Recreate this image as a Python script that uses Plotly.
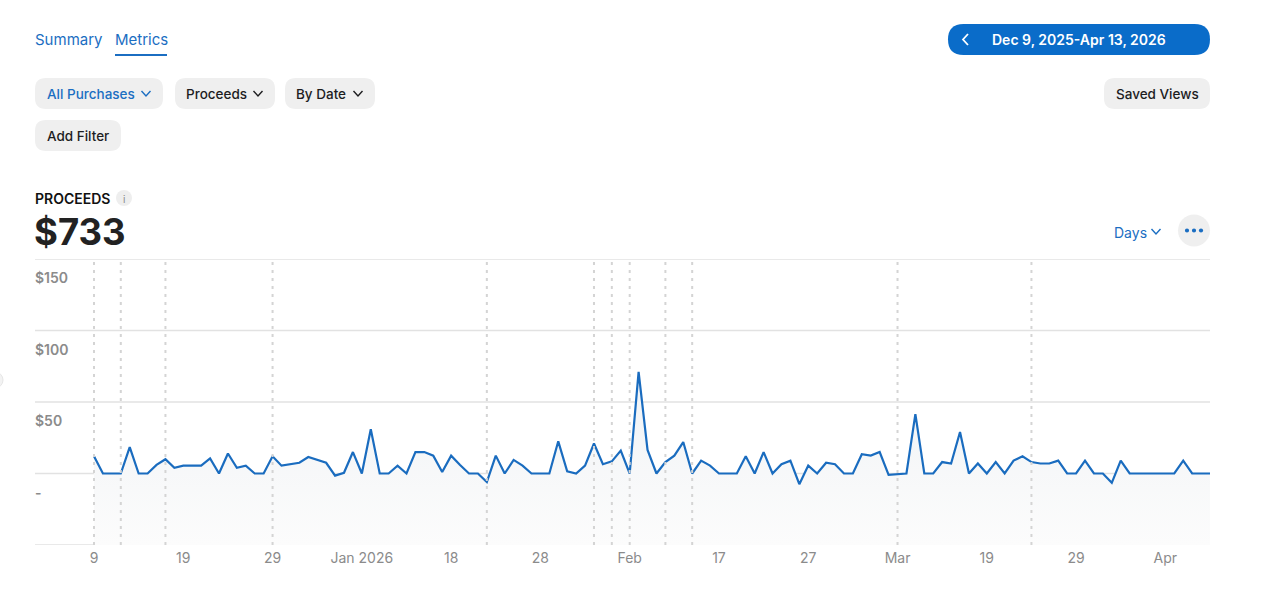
import pandas as pd
import plotly.graph_objects as go

# ---------------- data ----------------
start_date = "2025-12-09"
end_date = "2026-04-13"
proceeds = [
    12, 0, 0, 0, 18.5, 0, 0, 6, 10, 4,
    5.5, 5.5, 5.5, 10.5, 0, 14, 4, 5.5, 0, 0,
    12, 5.5, 6.5, 7.5, 11.5, 9.5, 7.5, -1.5, 0.5, 15,
    0, 31, 0, 0, 5.5, 0, 15, 15, 12.5, 1,
    12.5, 6, 0, 0, -6, 12.5, 0, 9.5, 5.5, 0,
    0, 0, 22.5, 1.5, 0, 5.5, 21, 6.5, 8.5, 16,
    0, 71, 16.5, 0, 8, 12.5, 22, 0, 9, 5.5,
    0, 0, 0, 12, 0, 15, 0, 6.5, 9, -7.5,
    5.5, 0, 7.5, 6.5, 0, 0, 13.5, 12.5, 15, -1,
    -0.5, 0, 41.5, 0, 0, 8, 7, 29, 0, 7,
    0, 8, 0, 9, 12, 8, 7, 7, 9, 0,
    0, 9, 0, 0, -6.5, 9, 0, 0, 0, 0,
    0, 0, 9, 0, 0, 0,
]
dates = pd.date_range(start_date, periods=len(proceeds), freq="D")

tick_dates = ["2025-12-09", "2025-12-19", "2025-12-29", "2026-01-08", "2026-01-18",
              "2026-01-28", "2026-02-07", "2026-02-17", "2026-02-27", "2026-03-09",
              "2026-03-19", "2026-03-29", "2026-04-08"]
tick_labels = ["9", "19", "29", "Jan 2026", "18", "28", "Feb", "17", "27", "Mar",
               "19", "29", "Apr"]

marker_dates = ["2025-12-09", "2025-12-12", "2025-12-17", "2025-12-29", "2026-01-22",
                "2026-02-03", "2026-02-05", "2026-02-07", "2026-02-11", "2026-02-14",
                "2026-03-09", "2026-03-24"]

y_grid = [150, 100, 50, 0, -50]
y_labels = ["$150", "$100", "$50", "-", ""]
total_label = "$733"

# ---------------- layout helpers ----------------
W, H = 1280, 593
L, R, T, B = 35, 1210, 259, 545
FONT = "Inter"
BLUE = "#1b6ec2"
DARK = "#1d1d1f"
PILL = "#efefef"


def px(x):
    return (x - L) / (R - L)


def py(y):
    return (B - y) / (B - T)


def rrect(x0, y0, x1, y1, r, fill):
    pts = [
        f"M {px(x0 + r)},{py(y0)}",
        f"L {px(x1 - r)},{py(y0)}",
        f"Q {px(x1)},{py(y0)} {px(x1)},{py(y0 + r)}",
        f"L {px(x1)},{py(y1 - r)}",
        f"Q {px(x1)},{py(y1)} {px(x1 - r)},{py(y1)}",
        f"L {px(x0 + r)},{py(y1)}",
        f"Q {px(x0)},{py(y1)} {px(x0)},{py(y1 - r)}",
        f"L {px(x0)},{py(y0 + r)}",
        f"Q {px(x0)},{py(y0)} {px(x0 + r)},{py(y0)}",
        "Z",
    ]
    return dict(type="path", xref="paper", yref="paper", path=" ".join(pts),
                fillcolor=fill, line=dict(width=0), layer="above")


def chevron(cx, cy, color, w=4.5, h=2.5, lw=1.4):
    path = f"M {px(cx - w)},{py(cy - h)} L {px(cx)},{py(cy + h)} L {px(cx + w)},{py(cy - h)}"
    return dict(type="path", xref="paper", yref="paper", path=path,
                line=dict(color=color, width=lw), layer="above")


def text(x, y, s, size=13.5, color=DARK, anchor="left", weight=500):
    shift = -2 if anchor == "left" else 0
    return dict(x=px(x), y=py(y), xref="paper", yref="paper", text=s, showarrow=False,
                xanchor=anchor, yanchor="middle", xshift=shift,
                font=dict(family=FONT, size=size, color=color, weight=weight))


def circle(cx, cy, r, fill):
    return dict(type="circle", xref="paper", yref="paper",
                x0=px(cx - r), x1=px(cx + r), y0=py(cy + r), y1=py(cy - r),
                fillcolor=fill, line=dict(width=0), layer="above")


# ---------------- figure ----------------
fig = go.Figure()

baseline = [-50] * len(proceeds)
fig.add_trace(go.Scatter(x=dates, y=baseline, mode="lines", line=dict(width=0),
                         hoverinfo="skip", showlegend=False))
fig.add_trace(go.Scatter(
    x=dates, y=proceeds, mode="lines",
    line=dict(color="#1a6cbf", width=2.2),
    fill="tonexty",
    fillgradient=dict(type="vertical", start=-50, stop=40,
                      colorscale=[[0, "rgba(252,252,252,1)"], [1, "rgba(243,245,247,1)"]]),
    showlegend=False,
))

shapes = []
# horizontal gridlines (incl. top and bottom edges)
for v in y_grid:
    shapes.append(dict(type="line", xref="paper", yref="y", x0=0, x1=1, y0=v, y1=v,
                       line=dict(color="#e2e2e2", width=1.3), layer="below"))
for d in marker_dates:
    shapes.append(dict(type="line", xref="x", yref="paper", x0=d, x1=d, y0=0, y1=1,
                       line=dict(color="#d4d4d4", width=2, dash="3px,5px"), layer="above"))

# header shapes
shapes.append(dict(type="line", xref="paper", yref="paper", x0=px(115), x1=px(167),
                   y0=py(55), y1=py(55), line=dict(color=BLUE, width=2)))
shapes.append(rrect(35, 78, 163, 109, 11, PILL))
shapes.append(rrect(175, 78, 275, 109, 11, PILL))
shapes.append(rrect(285, 78, 375, 109, 11, PILL))
shapes.append(rrect(35, 120, 121, 151, 11, PILL))
shapes.append(rrect(1104, 78, 1210, 109, 11, PILL))
shapes.append(rrect(948, 24, 1210, 55, 15.5, "#0a6cc9"))
shapes.append(chevron(146, 93.5, BLUE))
shapes.append(chevron(258, 93.5, DARK))
shapes.append(chevron(358, 93.5, DARK))
shapes.append(chevron(1156, 231.5, BLUE))
# back chevron in date pill
shapes.append(dict(type="path", xref="paper", yref="paper",
                   path=f"M {px(968)},{py(34)} L {px(963)},{py(39.5)} L {px(968)},{py(45)}",
                   line=dict(color="white", width=1.8), layer="above"))
shapes.append(circle(124, 198, 8, "#eeeeee"))
shapes.append(circle(1194, 230.5, 16, "#efefef"))
for dx in (-7, 0, 7):
    shapes.append(circle(1194 + dx, 230.5, 2.1, BLUE))
shapes.append(dict(type="circle", xref="paper", yref="paper",
                   x0=px(-13), x1=px(3), y0=py(388), y1=py(372),
                   fillcolor="#f3f3f3", line=dict(color="#e6e6e6", width=1), layer="above"))

annotations = [
    text(35, 39.5, "Summary", 15, BLUE, weight=400),
    text(115, 39.5, "Metrics", 15, BLUE, weight=400),
    text(47, 94, "All Purchases", 13.5, BLUE),
    text(186, 94, "Proceeds", 13.5, DARK),
    text(296, 94, "By Date", 13.5, DARK),
    text(47, 136, "Add Filter", 13.5, DARK),
    text(1157, 94, "Saved Views", 13.5, DARK, anchor="center"),
    text(1079, 40, "Dec 9, 2025-Apr 13, 2026", 14, "white", anchor="center", weight=600),
    text(35, 198, "PROCEEDS", 14, "#111111", weight=600),
    text(124, 198.5, "i", 10, "#8a8a8a", anchor="center", weight=400),
    text(34, 232, total_label, 36.5, "#222222", weight=700),
    text(1114, 232, "Days", 14, BLUE, weight=400),
]
for v, lab in zip(y_grid, y_labels):
    if not lab:
        continue
    annotations.append(dict(x=0, y=v, xref="paper", yref="y", text=lab, showarrow=False,
                            xanchor="left", yanchor="top", yshift=-8, xshift=-2,
                            font=dict(family=FONT, size=14, color="#8b8b8b", weight=600)))

x_start = pd.Timestamp(start_date) - pd.Timedelta(days=6.61)
fig.update_layout(
    width=W, height=H,
    margin=dict(l=L, r=W - R, t=T, b=H - B),
    paper_bgcolor="white", plot_bgcolor="white",
    showlegend=False,
    shapes=shapes,
    annotations=annotations,
    xaxis=dict(
        type="date", range=[x_start, pd.Timestamp(end_date)],
        tickvals=tick_dates, ticktext=tick_labels,
        showgrid=False, zeroline=False, showline=False, ticks="",
        ticklabelstandoff=3,
        tickfont=dict(family=FONT, size=14, color="#8b8b8b"),
        fixedrange=True,
    ),
    yaxis=dict(
        range=[-50, 150],
        showticklabels=False, showgrid=False,
        zeroline=False, showline=False, ticks="", fixedrange=True,
    ),
)

fig.write_html("out.html", config={"displayModeBar": False})
